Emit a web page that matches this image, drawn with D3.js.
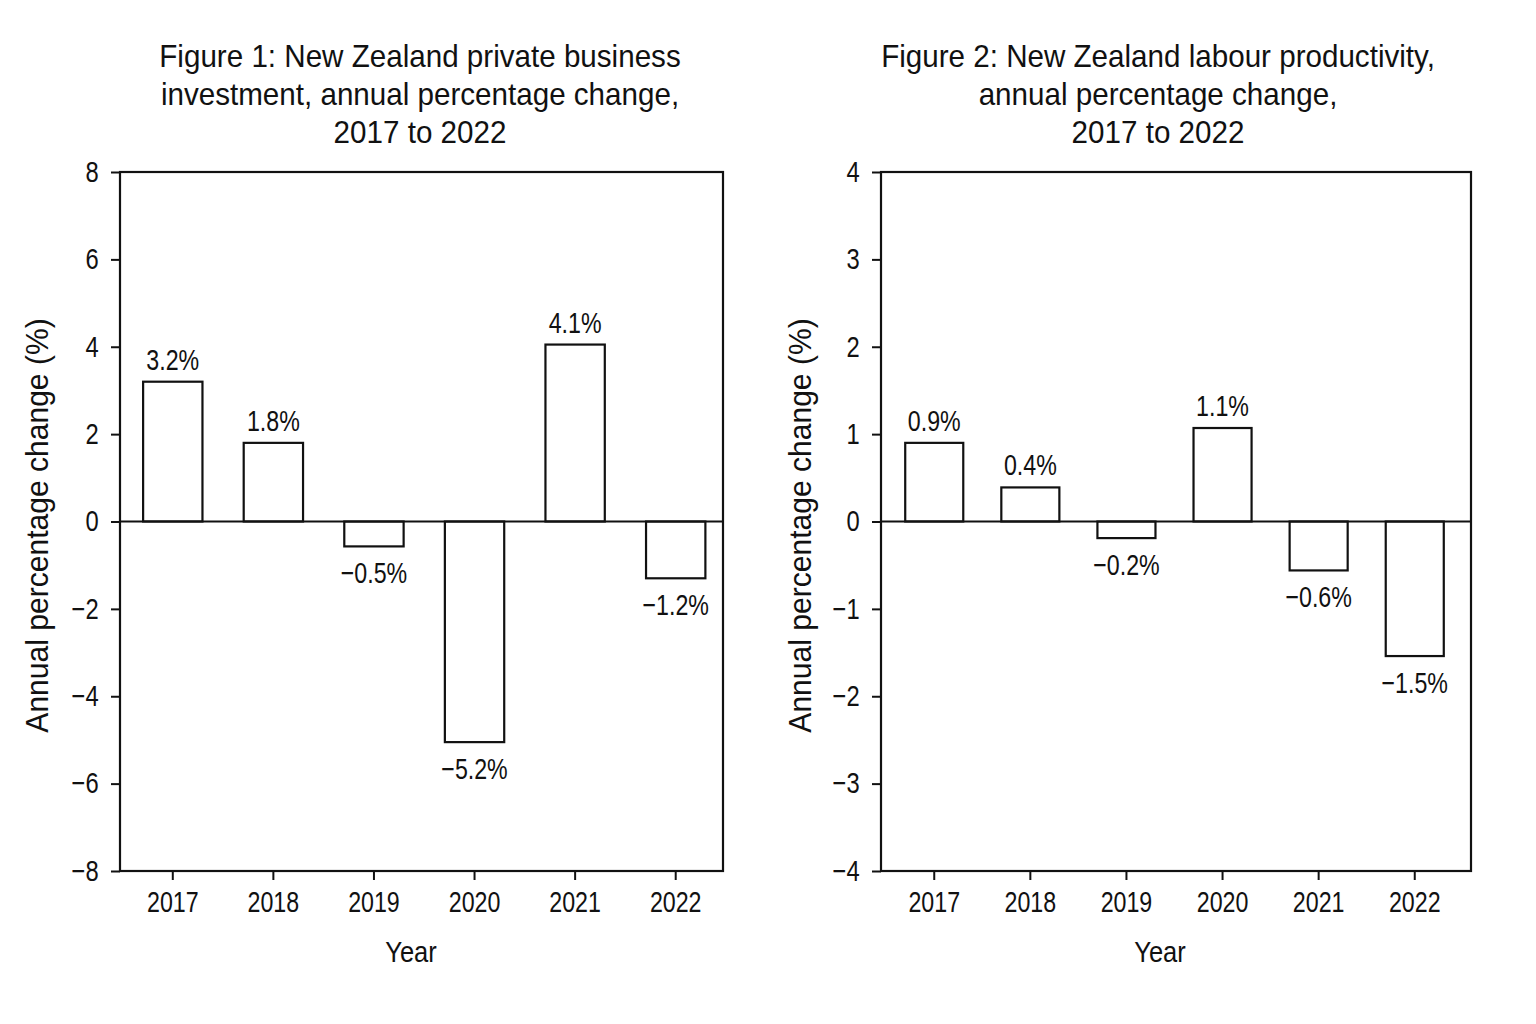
<!DOCTYPE html>
<html>
<head>
<meta charset="utf-8">
<script src="https://cdn.jsdelivr.net/npm/d3@7"></script>
<style>
  html, body { margin: 0; padding: 0; background: #fff; }
  svg { display: block; }
  text { font-family: "Liberation Sans", Arial, sans-serif; fill: #111; }
</style>
</head>
<body>
<svg id="chart" width="1536" height="1024"></svg>
<script>
const years = ["2017", "2018", "2019", "2020", "2021", "2022"];
// labelled values and the bar heights as they are drawn in the figure
const investment = [3.2, 1.8, -0.5, -5.2, 4.1, -1.2];
const investmentBars = [3.2, 1.8, -0.57, -5.05, 4.05, -1.3];
const productivity = [0.9, 0.4, -0.2, 1.1, -0.6, -1.5];
const productivityBars = [0.9, 0.39, -0.19, 1.07, -0.56, -1.54];
const title1 = ["Figure 1: New Zealand private business", "investment, annual percentage change,", "2017 to 2022"];
const title2 = ["Figure 2: New Zealand labour productivity,", "annual percentage change,", "2017 to 2022"];
const ticks1 = [-8, -6, -4, -2, 0, 2, 4, 6, 8];
const ticks2 = [-4, -3, -2, -1, 0, 1, 2, 3, 4];

const svg = d3.select("#chart");
const fmt = v => (v < 0 ? "\u2212" : "") + Math.abs(v).toFixed(1) + "%";
const tickFmt = v => (v < 0 ? "\u2212" : "") + Math.abs(v);
const TOP = 172, BOT = 871;

// narrow look of the original typeface: squeeze text horizontally
function label(g, x, y, txt, size, sx, rot) {
    return g.append("text")
        .attr("transform", `translate(${x},${y})` + (rot ? " rotate(-90)" : "") + ` scale(${sx},1)`)
        .attr("text-anchor", "middle")
        .style("font-size", size + "px")
        .text(txt);
}

function panel(opt) {
    const x = d3.scaleBand().domain(years).range(opt.band).paddingInner(opt.pi).paddingOuter(0.2);
    const y = d3.scaleLinear().domain(d3.extent(opt.ticks)).range([BOT, TOP]);
    const g = svg.append("g");

    g.append("rect")
        .attr("x", opt.x0).attr("y", TOP)
        .attr("width", opt.x1 - opt.x0).attr("height", BOT - TOP)
        .attr("fill", "none").attr("stroke", "#111").attr("stroke-width", 2.2);

    g.append("g")
        .attr("transform", `translate(${opt.x0},0)`)
        .call(d3.axisLeft(y).tickValues(opt.ticks).tickFormat(tickFmt).tickSize(9).tickPadding(17))
        .call(a => a.select(".domain").remove())
        .call(a => a.selectAll("line").attr("stroke", "#111").attr("stroke-width", 2))
        .call(a => a.selectAll("text")
            .style("font-size", "29px").style("font-family", null)
            .attr("transform", "scale(0.82,1)"));

    g.append("g")
        .attr("transform", `translate(0,${BOT})`)
        .call(d3.axisBottom(x).tickSize(9).tickPadding(11))
        .call(a => a.select(".domain").remove())
        .call(a => a.selectAll("line").attr("stroke", "#111").attr("stroke-width", 2))
        .call(a => a.selectAll("text")
            .style("font-size", "29px").style("font-family", null)
            .attr("transform", "scale(0.8,1)"));

    g.selectAll("rect.bar")
        .data(opt.bars)
        .join("rect")
        .attr("class", "bar")
        .attr("x", (d, i) => x(years[i]))
        .attr("width", x.bandwidth())
        .attr("y", d => y(Math.max(0, d)))
        .attr("height", d => Math.abs(y(d) - y(0)))
        .attr("fill", "#fff").attr("stroke", "#111").attr("stroke-width", 2.2);

    g.append("line")
        .attr("x1", opt.x0).attr("x2", opt.x1)
        .attr("y1", y(0)).attr("y2", y(0))
        .attr("stroke", "#111").attr("stroke-width", 2.2);

    opt.values.forEach((v, i) => {
        const b = opt.bars[i];
        label(g, x(years[i]) + x.bandwidth() / 2, b >= 0 ? y(b) - 12 : y(b) + 37, fmt(v), 29, 0.8);
    });

    opt.title.forEach((t, i) => label(g, opt.tx, 67 + i * 38, t, 31, 0.955));

    label(g, opt.lx, (TOP + BOT) / 2 + 4, "Annual percentage change (%)", 31, 0.97, true);
    label(g, opt.yx, 962, "Year", 30, 0.85);
}

panel({ values: investment, bars: investmentBars, ticks: ticks1,
        x0: 120, x1: 723, band: [123, 725.5], pi: 0.41,
        tx: 420, lx: 48, yx: 411, title: title1 });
panel({ values: productivity, bars: productivityBars, ticks: ticks2,
        x0: 881, x1: 1471, band: [886, 1463], pi: 0.396,
        tx: 1158, lx: 811, yx: 1160, title: title2 });
</script>
</body>
</html>
